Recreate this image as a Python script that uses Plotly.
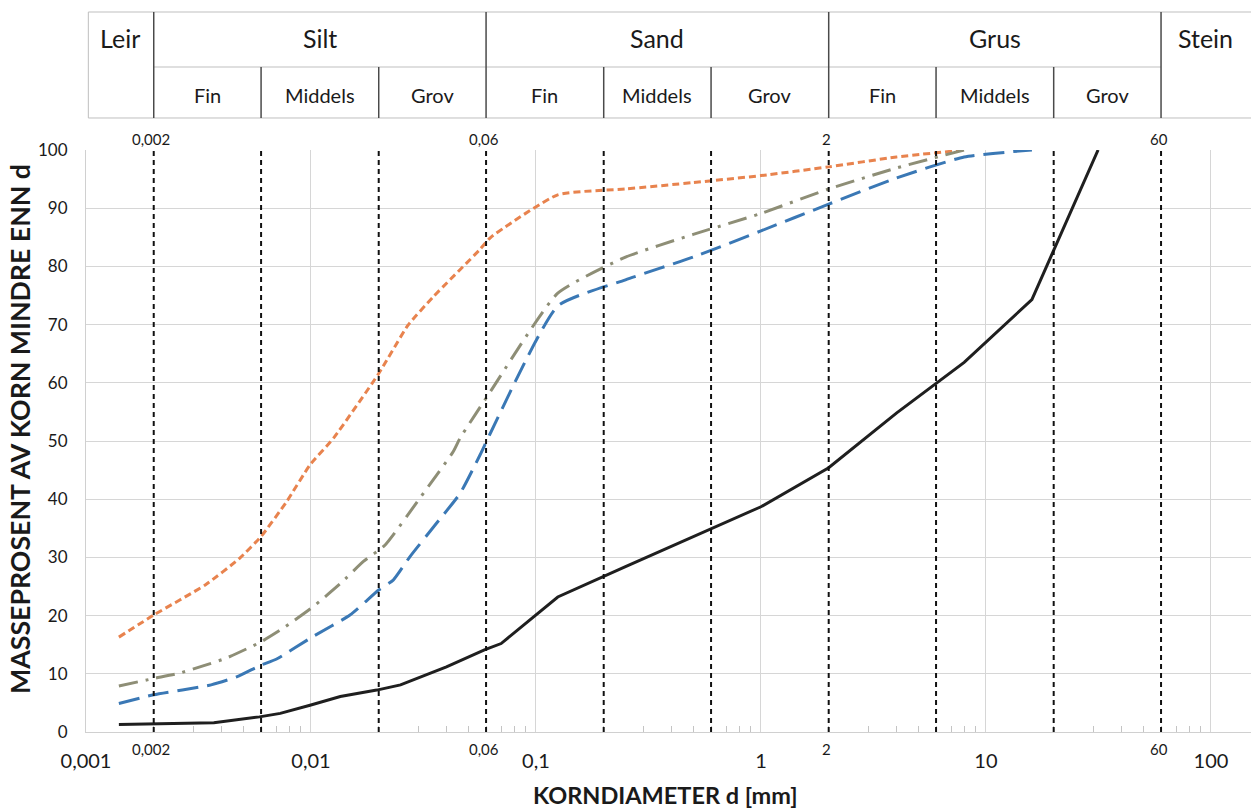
import math
import plotly.graph_objects as go

# Grain-size distribution: grain diameter d [mm] vs. cumulative mass percent finer than d
d_orange = [0.0014, 0.002, 0.0034, 0.0048, 0.006, 0.0078, 0.0099, 0.0126, 0.02, 0.027,
            0.035, 0.056, 0.063, 0.125, 0.25, 0.5, 1, 2, 4, 8]
p_orange = [16.3, 20.1, 25.3, 29.8, 33.6, 39.6, 45.9, 50.5, 61.6, 69.9,
            74.8, 82.8, 85.0, 92.3, 93.3, 94.4, 95.6, 97.1, 98.8, 100]

d_gray = [0.0014, 0.002, 0.0026, 0.0042, 0.006, 0.0075, 0.0102, 0.0135, 0.0171, 0.0213,
          0.0305, 0.0429, 0.046, 0.063, 0.125, 0.25, 0.5, 1, 2, 4, 8]
p_gray = [7.9, 9.2, 10.1, 12.7, 15.5, 17.8, 21.5, 25.5, 29.3, 32.1,
          40.2, 48.2, 50.5, 58.6, 75.4, 81.6, 85.5, 89.1, 93.3, 96.9, 100]

d_blue = [0.0014, 0.002, 0.0036, 0.0047, 0.006, 0.007, 0.0102, 0.0149, 0.02, 0.0232,
          0.0275, 0.0362, 0.046, 0.0564, 0.063, 0.125, 0.25, 0.5, 1, 2, 4, 8, 16]
p_blue = [4.9, 6.4, 8.1, 9.5, 11.5, 12.5, 16.4, 20.1, 24.4, 26.1,
          30.1, 35.9, 41.0, 47.6, 51.5, 73.2, 77.7, 81.6, 86.1, 90.7, 95.2, 98.8, 100]

d_black = [0.0014, 0.0037, 0.0059, 0.0073, 0.0099, 0.0135, 0.0196, 0.025, 0.040, 0.059,
           0.070, 0.125, 0.25, 0.5, 1, 2, 4, 8, 16, 31.5]
p_black = [1.3, 1.6, 2.6, 3.2, 4.6, 6.1, 7.2, 8.1, 11.2, 14.1,
           15.2, 23.2, 28.4, 33.5, 38.7, 45.4, 54.8, 63.5, 74.3, 100]

# Fraction boundaries (mm) and their labels
main_bounds = [0.002, 0.06, 2, 60]
main_bound_labels = ["0,002", "0,06", "2", "60"]
sub_bounds = [0.006, 0.02, 0.2, 0.6, 6, 20]

# Soil class header
classes = ["Leir", "Silt", "Sand", "Grus", "Stein"]
class_edges = [0.001, 0.002, 0.06, 2, 60, 150]
subclasses = ["Fin", "Middels", "Grov"] * 3
subclass_edges = [0.002, 0.006, 0.02, 0.06, 0.2, 0.6, 2, 6, 20, 60]

# Axis ticks
x_ticks = [0.001, 0.01, 0.1, 1, 10, 100]
x_ticktext = ["0,001", "0,01", "0,1", "1", "10", "100"]
y_ticks = list(range(0, 101, 10))

FONT = "Lato, Carlito, Calibri, sans-serif"
X_MIN, X_MAX = 0.001, 10 ** 2.178

fig = go.Figure()

series = [
    (d_orange, p_orange, "#E8834E", "7px,4px"),
    (d_gray, p_gray, "#8E8E76", "19px,8px,3px,8px"),
    (d_blue, p_blue, "#3A78B5", "21px,9px"),
    (d_black, p_black, "#1F1F1F", "solid"),
]
for d, p, color, dash in series:
    fig.add_trace(go.Scatter(
        x=d, y=p, mode="lines",
        line=dict(color=color, width=3, dash=dash,
                  shape="linear" if dash == "solid" else "spline", smoothing=0.5),
        hoverinfo="x+y", showlegend=False,
    ))

shapes = []
# Dashed fraction boundaries through the plot
for b in main_bounds + sub_bounds:
    shapes.append(dict(type="line", xref="x", yref="paper", x0=b, x1=b, y0=0, y1=1,
                       line=dict(color="#111111", width=2, dash="5px,4px"), layer="above"))

# Header table geometry in paper units
T_TOP, T_MID, T_BOT = 1.2371, 1.1426, 1.0550
hl = "#BFBFBF"
vl = "#4A4A4A"
shapes.append(dict(type="line", xref="paper", yref="paper", x0=0.002, x1=1, y0=T_TOP, y1=T_TOP,
                   line=dict(color=hl, width=1)))
shapes.append(dict(type="line", xref="paper", yref="paper", x0=0.002, x1=1, y0=T_BOT, y1=T_BOT,
                   line=dict(color=hl, width=1)))
shapes.append(dict(type="line", xref="x", yref="paper", x0=0.002, x1=60, y0=T_MID, y1=T_MID,
                   line=dict(color=hl, width=1)))
shapes.append(dict(type="line", xref="paper", yref="paper", x0=0.002, x1=0.002, y0=T_BOT, y1=T_TOP,
                   line=dict(color=hl, width=1)))
for b in main_bounds:
    shapes.append(dict(type="line", xref="x", yref="paper", x0=b, x1=b, y0=T_BOT, y1=T_TOP,
                       line=dict(color=vl, width=1.5)))
for b in sub_bounds:
    shapes.append(dict(type="line", xref="x", yref="paper", x0=b, x1=b, y0=T_BOT, y1=T_MID,
                       line=dict(color=vl, width=1.5)))

annotations = []
for i, name in enumerate(classes):
    xc = (math.log10(class_edges[i]) + math.log10(class_edges[i + 1])) / 2
    annotations.append(dict(text=name, x=xc, y=1.1924, xref="x", yref="paper",
                            xanchor="center", yanchor="middle", showarrow=False,
                            font=dict(family=FONT, size=25, color="#1A1A1A")))
for i, name in enumerate(subclasses):
    xc = (math.log10(subclass_edges[i]) + math.log10(subclass_edges[i + 1])) / 2
    annotations.append(dict(text=name, x=xc, y=1.0945, xref="x", yref="paper",
                            xanchor="center", yanchor="middle", showarrow=False,
                            font=dict(family=FONT, size=20, color="#1A1A1A")))

# Boundary value labels above and below the plot
for b, lab in zip(main_bounds, main_bound_labels):
    for yy in (1.0, 0.0):
        annotations.append(dict(text=lab, x=math.log10(b) - 0.01, y=yy, xref="x", yref="paper",
                                xanchor="center",
                                yanchor="bottom" if yy == 1.0 else "top",
                                yshift=0 if yy == 1.0 else -6,
                                showarrow=False, font=dict(family=FONT, size=15, color="#1A1A1A")))

# Axis titles
annotations.append(dict(text="<b>KORNDIAMETER d [mm]</b>", x=0.497, y=-0.108, xref="paper", yref="paper",
                        xanchor="center", yanchor="middle", showarrow=False,
                        font=dict(family=FONT, size=23.5, color="#1A1A1A")))
annotations.append(dict(text="<b>MASSEPROSENT AV KORN MINDRE ENN d</b>", x=-0.0567, y=0.5206,
                        xref="paper", yref="paper", textangle=-90, xanchor="center", yanchor="middle",
                        showarrow=False, font=dict(family=FONT, size=26.7, color="#1A1A1A")))

minor_vals = [m * 10 ** e for e in range(-3, 3) for m in range(2, 10) if m * 10 ** e < X_MAX]

fig.update_layout(
    width=1251, height=811,
    margin=dict(l=86, r=0, t=150, b=79),
    paper_bgcolor="white", plot_bgcolor="white",
    shapes=shapes, annotations=annotations,
    font=dict(family=FONT, color="#1A1A1A"),
    xaxis=dict(type="log", range=[math.log10(X_MIN), math.log10(X_MAX)],
               tickmode="array", tickvals=x_ticks, ticktext=x_ticktext,
               tickfont=dict(size=20), ticks="", ticklabelstandoff=11,
               showgrid=True, gridcolor="#D6D6D6", gridwidth=1,
               showline=True, linecolor="#D0D0D0", linewidth=1, zeroline=False,
               minor=dict(tickmode="array", tickvals=minor_vals, ticks="inside",
                          ticklen=6, tickcolor="#C4C4C4", showgrid=False)),
    yaxis=dict(range=[0, 100], tickmode="array", tickvals=y_ticks,
               tickfont=dict(size=17), ticks="", ticklabelstandoff=14,
               showgrid=True, gridcolor="#D6D6D6", gridwidth=1,
               showline=True, linecolor="#D0D0D0", linewidth=1, zeroline=False),
)

fig.write_html("out.html")
